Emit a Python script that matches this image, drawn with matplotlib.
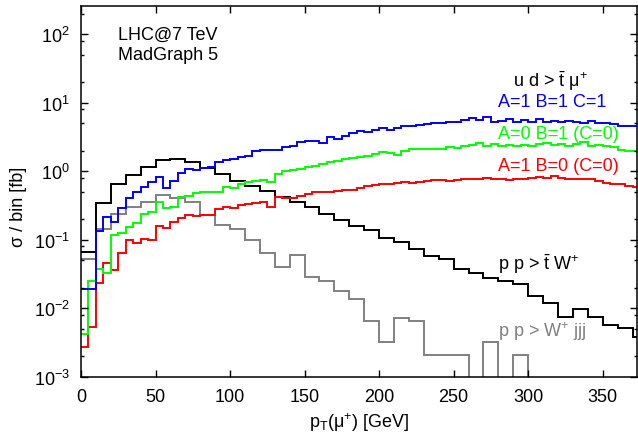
import numpy as np
import matplotlib
matplotlib.use("Agg")
import matplotlib.pyplot as plt
from matplotlib.ticker import LogLocator, NullFormatter, MultipleLocator

plt.rcParams["font.family"] = ["Liberation Sans", "DejaVu Sans"]
plt.rcParams["mathtext.fontset"] = "custom"
plt.rcParams["mathtext.rm"] = "Liberation Sans"
plt.rcParams["mathtext.it"] = "Liberation Sans:italic"

# bin widths: 5 GeV for u d > t~ mu+ signal curves, 10 GeV for backgrounds
fine_bin = 5
coarse_bin = 10

# u d > t~ mu+, A=1 B=1 C=1
sig_abc = [0.019, 0.019, 0.133, 0.217, 0.18, 0.29, 0.41, 0.50, 0.58, 0.70,
           0.83, 0.56, 0.73, 0.94, 1.08, 1.04, 1.10, 1.15, 1.35, 1.45,
           1.50, 1.60, 1.69, 2.0, 2.05, 2.05, 2.06, 2.23, 2.36, 2.64,
           2.79, 2.79, 2.58, 3.12, 2.95, 3.30, 3.57, 3.90, 3.69, 3.99,
           4.22, 3.99, 4.22, 4.61, 4.61, 4.72, 4.83, 5.1, 5.0, 5.2,
           5.3, 5.65, 6.0, 5.5, 6.2, 5.3, 5.45, 5.8, 5.3, 5.6,
           5.3, 5.7, 5.3, 5.4, 5.3, 5.45, 5.3, 5.1, 5.35, 5.0,
           5.0, 4.9, 4.6, 4.55, 4.55]

# A=0 B=1 (C=0)
sig_b = [0.0042, 0.025, 0.037, 0.033, 0.118, 0.124, 0.152, 0.174, 0.237, 0.256,
         0.35, 0.287, 0.297, 0.42, 0.43, 0.475, 0.49, 0.50, 0.49, 0.58,
         0.56, 0.64, 0.70, 0.72, 0.74, 0.70, 0.92, 1.0, 1.04, 1.09,
         1.17, 1.21, 1.26, 1.34, 1.40, 1.49, 1.55, 1.62, 1.69, 1.76,
         1.91, 1.87, 1.75, 2.0, 2.14, 2.08, 2.11, 2.11, 2.14, 2.28,
         2.18, 2.36, 2.41, 2.55, 2.36, 2.50, 2.36, 2.44, 2.36, 2.44,
         2.36, 2.50, 2.58, 2.44, 2.50, 2.36, 2.50, 2.64, 2.36, 2.44,
         2.36, 2.28, 2.06, 1.99, 1.95]

# A=1 B=0 (C=0)
sig_a = [0.0027, 0.0054, 0.023, 0.0457, 0.0366, 0.065, 0.10, 0.089, 0.101, 0.10,
         0.16, 0.147, 0.18, 0.207, 0.229, 0.224, 0.228, 0.228, 0.284, 0.30,
         0.29, 0.32, 0.33, 0.34, 0.35, 0.30, 0.42, 0.40, 0.40, 0.43,
         0.46, 0.50, 0.50, 0.50, 0.52, 0.53, 0.54, 0.56, 0.61, 0.63,
         0.66, 0.66, 0.67, 0.70, 0.67, 0.69, 0.73, 0.74, 0.75, 0.72,
         0.74, 0.76, 0.77, 0.78, 0.80, 0.78, 0.77, 0.75, 0.76, 0.77,
         0.79, 0.81, 0.79, 0.86, 0.80, 0.78, 0.77, 0.78, 0.77, 0.72,
         0.68, 0.65, 0.64, 0.61, 0.59]

# p p > t~ W+
ttw = [0.067, 0.34, 0.65, 0.88, 1.16, 1.46, 1.51, 1.35, 1.10, 0.91,
       0.71, 0.61, 0.51, 0.42, 0.35, 0.30, 0.24, 0.196, 0.16, 0.139,
       0.106, 0.092, 0.073, 0.058, 0.052, 0.037, 0.033, 0.028, 0.025, 0.0225,
       0.0152, 0.0119, 0.0075, 0.0097, 0.0074, 0.0056, 0.0051, 0.0038]

# p p > W+ jjj
wjjj = [0.053, 0.143, 0.237, 0.30, 0.36, 0.45, 0.40, 0.35, 0.23, 0.164,
        0.143, 0.10, 0.065, 0.040, 0.060, 0.029, 0.025, 0.018, 0.0136, 0.0064,
        0.0032, 0.0072, 0.0064, 0.0021, 0.0021, 0.0021, 0, 0.0032, 0, 0.0021,
        0, 0, 0, 0, 0, 0, 0, 0]

x_ticks = [0, 50, 100, 150, 200, 250, 300, 350]


def main():
    fig = plt.figure(figsize=(6.38, 4.35), dpi=100)
    ax = fig.add_axes([81 / 638, 1 - 377.7 / 435, 556 / 638, 370.4 / 435])

    ymin = 1e-3
    fine_edges = np.arange(len(sig_abc) + 1) * fine_bin
    coarse_edges = np.arange(len(ttw) + 1) * coarse_bin

    # zero bins have no place on a log axis -> push them to the floor
    def floor(v):
        return np.clip(np.asarray(v, dtype=float), ymin * 0.5, None)

    ax.stairs(floor(wjjj), coarse_edges, baseline=None, color="#808080", lw=1.4)
    ax.stairs(floor(ttw), coarse_edges, baseline=None, color="black", lw=1.4)
    ax.stairs(floor(sig_a), fine_edges, baseline=None, color="#ff0000", lw=1.4)
    ax.stairs(floor(sig_b), fine_edges, baseline=None, color="#00ff00", lw=1.4)
    ax.stairs(floor(sig_abc), fine_edges, baseline=None, color="#0000ff", lw=1.4)

    ax.set_yscale("log")
    ax.set_xlim(0, 373)
    ax.set_ylim(ymin, 10 ** 2.407)
    ax.set_xticks(x_ticks)
    ax.xaxis.set_minor_locator(MultipleLocator(50))
    ax.yaxis.set_major_locator(LogLocator(base=10, numticks=10))
    ax.yaxis.set_minor_locator(LogLocator(base=10, subs=(2, 5, 8), numticks=10))
    ax.yaxis.set_minor_formatter(NullFormatter())

    ax.tick_params(which="both", direction="in", top=True, right=True,
                   labelsize=13, width=1.0)
    ax.tick_params(which="major", length=5, pad=8)
    ax.tick_params(which="minor", length=2.5)
    ax.tick_params(axis="x", which="minor", length=0)
    for s in ax.spines.values():
        s.set_linewidth(1.1)

    ax.set_xlabel(r"p$_{\mathrm{T}}$(μ$^{+}$) [GeV]", fontsize=13, labelpad=4)
    ax.set_ylabel("σ / bin [fb]", fontsize=13)
    ax.yaxis.set_label_coords(-0.098, 0.46)

    fs = 13
    fig.text(118 / 638, 1 - 35 / 435, "LHC@7 TeV", fontsize=fs, va="center")
    fig.text(118 / 638, 1 - 55 / 435, "MadGraph 5", fontsize=fs, va="center")
    fig.text(513 / 638, 1 - 81 / 435, r"u d > $\bar{\mathrm{t}}$ μ$^{+}$",
             fontsize=fs, va="center")
    fig.text(498 / 638, 1 - 103 / 435, "A=1 B=1 C=1", fontsize=fs,
             color="#0000ff", va="center")
    fig.text(498 / 638, 1 - 135 / 435, "A=0 B=1 (C=0)", fontsize=fs,
             color="#00ff00", va="center")
    fig.text(498 / 638, 1 - 167 / 435, "A=1 B=0 (C=0)", fontsize=fs,
             color="#ff0000", va="center")
    fig.text(498 / 638, 1 - 264 / 435, r"p p > $\bar{\mathrm{t}}$ W$^{+}$",
             fontsize=fs, va="center")
    fig.text(498 / 638, 1 - 332 / 435, r"p p > W$^{+}$ jjj", fontsize=fs,
             color="#808080", va="center")

    fig.savefig("out.png", dpi=100)


if __name__ == "__main__":
    main()
